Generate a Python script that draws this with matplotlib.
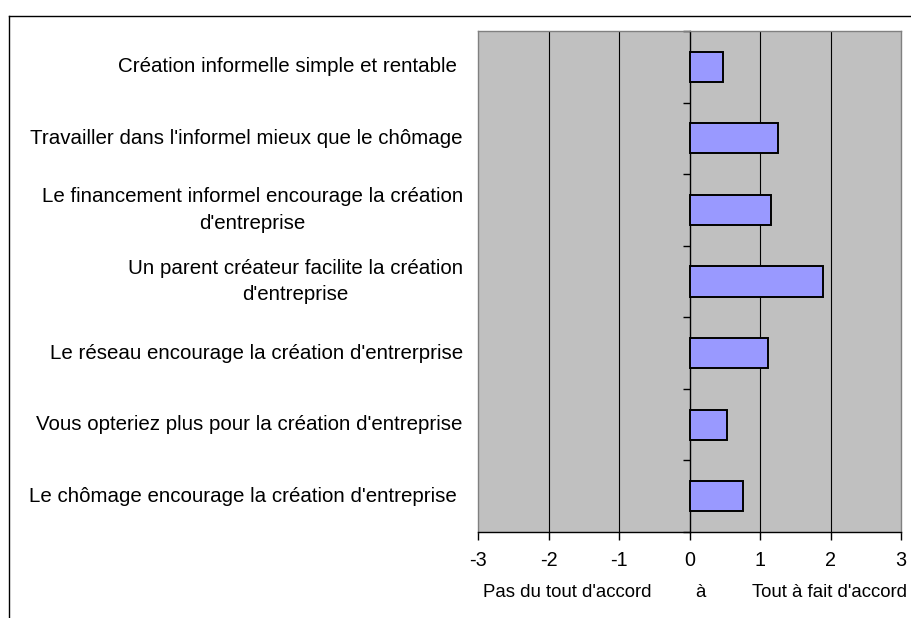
import matplotlib
matplotlib.use("Agg")
import matplotlib.pyplot as plt
from matplotlib.lines import Line2D
import numpy as np

plt.rcParams['font.family'] = ['Liberation Sans', 'DejaVu Sans']

# Survey items (top to bottom) and mean agreement scores
categories = [
    "Création informelle simple et rentable ",
    "Travailler dans l'informel mieux que le chômage",
    "Le financement informel encourage la création\nd'entreprise",
    "Un parent créateur facilite la création\nd'entreprise",
    "Le réseau encourage la création d'entrerprise",
    "Vous opteriez plus pour la création d'entreprise",
    "Le chômage encourage la création d'entreprise ",
]
scores = [0.47, 1.26, 1.15, 1.89, 1.12, 0.53, 0.76]
x_ticks = [-3, -2, -1, 0, 1, 2, 3]
scale_left = "Pas du tout d'accord"
scale_mid = "à"
scale_right = "Tout à fait d'accord"

FS = 14.8
FS_SCALE = 13.4

fig = plt.figure(figsize=(9.11, 6.18), dpi=100)
ax = fig.add_axes([478 / 911, 1 - 532 / 618, 423 / 911, 501 / 618])
ax.set_facecolor("#C0C0C0")

n = len(categories)
ypos = np.arange(n)
ax.barh(ypos, scores, height=0.42, color="#9999FF", edgecolor="black",
        linewidth=1.4, zorder=3)
ax.set_xlim(x_ticks[0], x_ticks[-1])
ax.set_ylim(n - 0.5, -0.5)

# interior vertical gridlines
for t in x_ticks[1:-1]:
    if t != 0:
        ax.axvline(t, color="black", lw=0.8, zorder=1)

for s in ("left", "right", "top"):
    ax.spines[s].set_color("#808080")
    ax.spines[s].set_linewidth(1.0)
ax.spines["bottom"].set_color("black")
ax.spines["bottom"].set_linewidth(1.0)

ax.set_xticks(x_ticks)
ax.set_xticklabels([str(t) for t in x_ticks])
ax.tick_params(axis="x", direction="out", length=6, width=1, pad=8,
               labelsize=14.2, colors="black")
ax.set_yticks([])

# category axis at x = 0 with tick marks between categories
sec = ax.secondary_yaxis((0 - x_ticks[0]) / (x_ticks[-1] - x_ticks[0]))
sec.set_yticks(np.arange(n + 1) - 0.5)
sec.set_yticklabels([])
sec.yaxis.set_ticks_position("left")
sec.tick_params(direction="out", length=5, width=1, color="black")
for s in sec.spines.values():
    s.set_color("black")
    s.set_linewidth(1.0)

# category labels at the left of the plot area
trans = ax.get_yaxis_transform()
for y, lab in zip(ypos, categories):
    ax.text(-0.036, y, lab, transform=trans, ha="right", va="center",
            multialignment="center", fontsize=FS, linespacing=1.48)

ax.text(0.012, -0.12, scale_left, transform=ax.transAxes, ha="left",
        va="center", fontsize=FS_SCALE)
ax.text(0.525, -0.12, scale_mid, transform=ax.transAxes, ha="center",
        va="center", fontsize=FS_SCALE)
ax.text(1.014, -0.12, scale_right, transform=ax.transAxes, ha="right",
        va="center", fontsize=FS_SCALE)

# outer chart border (partly cropped)
bx, by = 9 / 911, 1 - 16 / 618
fig.add_artist(Line2D([bx, bx], [0, by], transform=fig.transFigure,
                      color="black", lw=1.0))
fig.add_artist(Line2D([bx, 1], [by, by], transform=fig.transFigure,
                      color="black", lw=1.0))

fig.savefig("out.png", dpi=100)
